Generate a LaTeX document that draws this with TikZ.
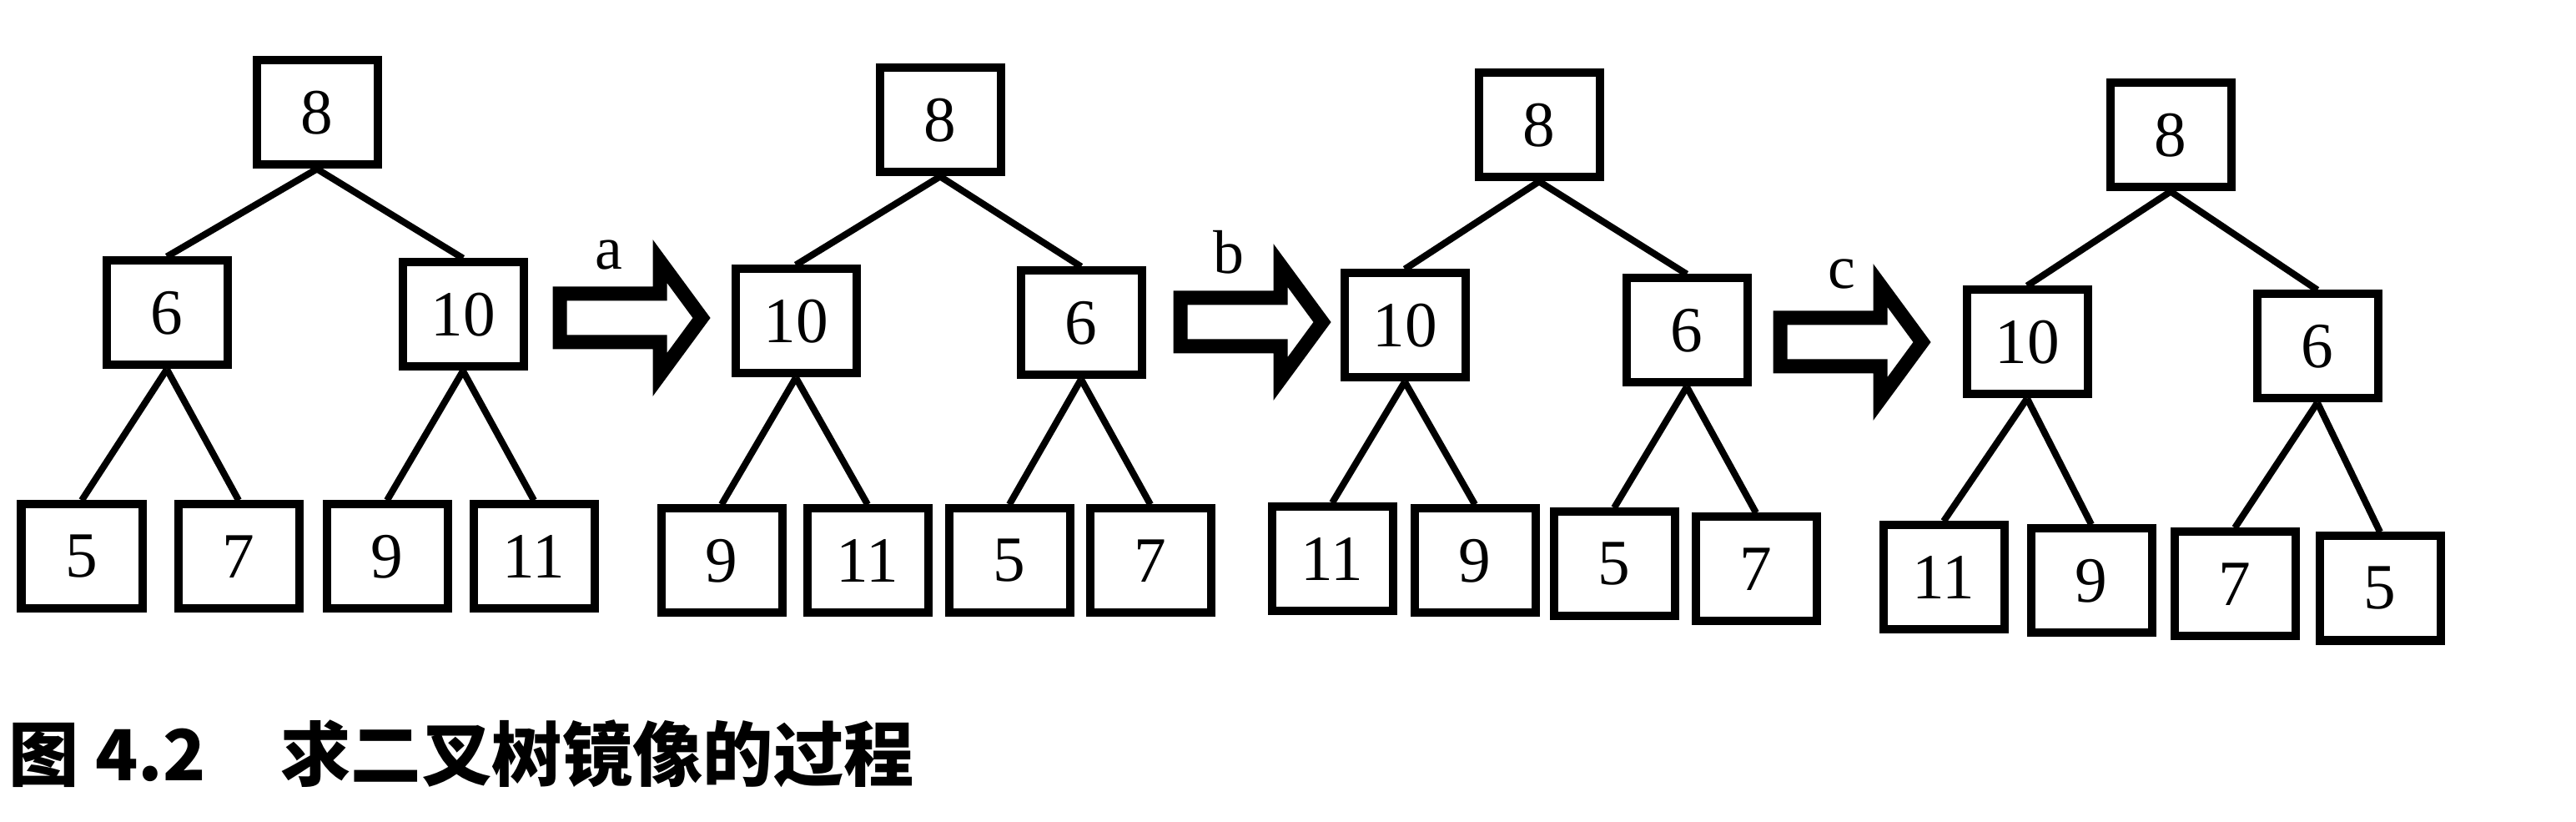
\documentclass[tikz,border=0pt]{standalone}
\usepackage{fontspec}
\setmainfont{Liberation Serif}
\newfontfamily\cjk{Noto Sans CJK SC}

\begin{document}
\begin{tikzpicture}

      \useasboundingbox (0,0) rectangle (30.88,9.84);

      \begin{scope}[every node/.style={rectangle,draw,line width=0.1cm,minimum width=1.45cm,minimum height=1.25cm,inner sep=0pt,font=\fontsize{22}{25}\selectfont}]
        % tree before a
        \node (a8)  at (3.80,8.49)  {8};
        \node (a6)  at (2.00,6.09)  {6};
        \node (a10) at (5.55,6.07)  {10};
        \node (a5)  at (0.98,3.17)  {5};
        \node (a7)  at (2.86,3.17)  {7};
        \node (a9)  at (4.64,3.17)  {9};
        \node (a11) at (6.40,3.17)  {11};
        % tree before b
        \node (b8)  at (11.27,8.40) {8};
        \node (b10) at (9.54,5.99)  {10};
        \node (b6)  at (12.96,5.97) {6};
        \node (b9)  at (8.65,3.12)  {9};
        \node (b11) at (10.40,3.12) {11};
        \node (b5)  at (12.10,3.12) {5};
        \node (b7)  at (13.79,3.12) {7};
        % tree before c
        \node (c8)  at (18.45,8.34) {8};
        \node (c10) at (16.84,5.94) {10};
        \node (c6)  at (20.22,5.88) {6};
        \node (c11) at (15.97,3.14) {11};
        \node (c9)  at (17.68,3.12) {9};
        \node (c5)  at (19.35,3.08) {5};
        \node (c7)  at (21.05,3.02) {7};
        % mirrored tree
        \node (d8)  at (26.02,8.22) {8};
        \node (d10) at (24.30,5.74) {10};
        \node (d6)  at (27.78,5.69) {6};
        \node (d11) at (23.30,2.92) {11};
        \node (d9)  at (25.07,2.88) {9};
        \node (d7)  at (26.79,2.84) {7};
        \node (d5)  at (28.53,2.79) {5};
      \end{scope}

      \begin{scope}[every edge/.style={draw,line width=0.08cm}]
        \path (a8.south)  edge (a6.north);
        \path (a8.south)  edge (a10.north);
        \path (a6.south)  edge (a5.north);
        \path (a6.south)  edge (a7.north);
        \path (a10.south) edge (a9.north);
        \path (a10.south) edge (a11.north);

        \path (b8.south)  edge (b10.north);
        \path (b8.south)  edge (b6.north);
        \path (b10.south) edge (b9.north);
        \path (b10.south) edge (b11.north);
        \path (b6.south)  edge (b5.north);
        \path (b6.south)  edge (b7.north);

        \path (c8.south)  edge (c10.north);
        \path (c8.south)  edge (c6.north);
        \path (c10.south) edge (c11.north);
        \path (c10.south) edge (c9.north);
        \path (c6.south)  edge (c5.north);
        \path (c6.south)  edge (c7.north);

        \path (d8.south)  edge (d10.north);
        \path (d8.south)  edge (d6.north);
        \path (d10.south) edge (d11.north);
        \path (d10.south) edge (d9.north);
        \path (d6.south)  edge (d7.north);
        \path (d6.south)  edge (d5.north);
      \end{scope}

      \begin{scope}[line width=0.17cm,line join=miter]
        \draw[shift={(6.63,6.03)}]  (0.08,0.29) -- (1.28,0.29) -- (1.28,0.68) -- (1.78,0) -- (1.28,-0.68) -- (1.28,-0.29) -- (0.08,-0.29) -- cycle;
        \draw[shift={(14.07,5.98)}] (0.08,0.29) -- (1.28,0.29) -- (1.28,0.68) -- (1.78,0) -- (1.28,-0.68) -- (1.28,-0.29) -- (0.08,-0.29) -- cycle;
        \draw[shift={(21.26,5.74)}] (0.08,0.29) -- (1.28,0.29) -- (1.28,0.68) -- (1.78,0) -- (1.28,-0.68) -- (1.28,-0.29) -- (0.08,-0.29) -- cycle;
      \end{scope}

      \begin{scope}[every node/.style={anchor=base,inner sep=0pt,font=\fontsize{21}{24}\selectfont}]
        \node (la) at (7.30,6.61)  {a};
        \node (lb) at (14.73,6.56) {b};
        \node (lc) at (22.08,6.38) {c};
      \end{scope}

      \node[anchor=west,inner sep=0pt,font=\cjk\bfseries\fontsize{24}{28}\selectfont] (caption) at (0.10,0.81) {图 4.2\hspace{0.9cm}求二叉树镜像的过程};

    \end{tikzpicture}
\end{document}
